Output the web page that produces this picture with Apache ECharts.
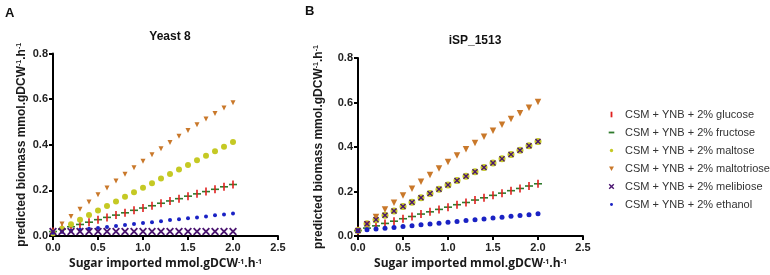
<!DOCTYPE html>
<html>
<head>
<meta charset="utf-8">
<script src="https://cdn.jsdelivr.net/npm/echarts@6/dist/echarts.min.js"></script>
<style>
  html, body { margin: 0; padding: 0; background: #fff; }
  #chart { width: 770px; height: 275px; }
</style>
</head>
<body>
<div id="chart"></div>
<script>
// sugar uptake (x) shared by every series
var uptake = [0.0, 0.1, 0.2, 0.3, 0.4, 0.5, 0.6, 0.7, 0.8, 0.9, 1.0,
              1.1, 1.2, 1.3, 1.4, 1.5, 1.6, 1.7, 1.8, 1.9, 2.0];

var mediaNames = ['CSM + YNB + 2% glucose', 'CSM + YNB + 2% fructose', 'CSM + YNB + 2% maltose',
                  'CSM + YNB + 2% maltotriose', 'CSM + YNB + 2% melibiose', 'CSM + YNB + 2% ethanol'];

// panel A - Yeast 8
var y8Glucose = [0.020, 0.030, 0.041, 0.051, 0.061, 0.072, 0.082, 0.092, 0.102, 0.113, 0.123,
                 0.133, 0.144, 0.154, 0.164, 0.175, 0.185, 0.195, 0.205, 0.216, 0.226];
var y8Fructose = [0.020, 0.030, 0.041, 0.051, 0.061, 0.072, 0.082, 0.092, 0.102, 0.113, 0.123,
                  0.133, 0.144, 0.154, 0.164, 0.175, 0.185, 0.195, 0.205, 0.216, 0.226];
var y8Maltose = [0.012, 0.032, 0.052, 0.072, 0.092, 0.112, 0.132, 0.152, 0.172, 0.192, 0.212,
                 0.232, 0.252, 0.272, 0.292, 0.312, 0.332, 0.352, 0.372, 0.392, 0.412];
var y8Maltotriose = [0.020, 0.053, 0.086, 0.118, 0.149, 0.181, 0.211, 0.241, 0.271, 0.300, 0.328,
                     0.356, 0.383, 0.410, 0.437, 0.463, 0.488, 0.513, 0.537, 0.561, 0.584];
var y8Melibiose = [0.020, 0.020, 0.020, 0.020, 0.020, 0.020, 0.020, 0.020, 0.020, 0.020, 0.020,
                   0.020, 0.020, 0.020, 0.020, 0.020, 0.020, 0.020, 0.020, 0.020, 0.020];
var y8Ethanol = [0.015, 0.019, 0.023, 0.028, 0.032, 0.036, 0.040, 0.044, 0.049, 0.053, 0.057,
                 0.061, 0.065, 0.070, 0.074, 0.078, 0.082, 0.086, 0.091, 0.095, 0.099];

// panel B - iSP_1513
var ispGlucose = [0.025, 0.036, 0.046, 0.057, 0.067, 0.078, 0.088, 0.099, 0.109, 0.120, 0.130,
                  0.141, 0.151, 0.162, 0.172, 0.183, 0.193, 0.204, 0.214, 0.225, 0.235];
var ispFructose = [0.025, 0.036, 0.046, 0.057, 0.067, 0.078, 0.088, 0.099, 0.109, 0.120, 0.130,
                   0.141, 0.151, 0.162, 0.172, 0.183, 0.193, 0.204, 0.214, 0.225, 0.235];
var ispMaltose = [0.025, 0.055, 0.074, 0.094, 0.113, 0.133, 0.152, 0.172, 0.191, 0.211, 0.230,
                  0.250, 0.269, 0.289, 0.308, 0.328, 0.347, 0.367, 0.386, 0.406, 0.425];
var ispMaltotriose = [0.020, 0.053, 0.086, 0.119, 0.150, 0.182, 0.213, 0.244, 0.274, 0.304, 0.333,
                      0.362, 0.390, 0.418, 0.446, 0.473, 0.500, 0.526, 0.552, 0.577, 0.602];
var ispMelibiose = [0.025, 0.055, 0.074, 0.094, 0.113, 0.133, 0.152, 0.172, 0.191, 0.211, 0.230,
                    0.250, 0.269, 0.289, 0.308, 0.328, 0.347, 0.367, 0.386, 0.406, 0.425];
var ispEthanol = [0.024, 0.028, 0.032, 0.035, 0.039, 0.043, 0.047, 0.051, 0.054, 0.058, 0.062,
                  0.066, 0.070, 0.073, 0.077, 0.081, 0.085, 0.089, 0.092, 0.096, 0.100];

var xTicks = ['0.0', '0.5', '1.0', '1.5', '2.0', '2.5'];
var yTicks = ['0.0', '0.2', '0.4', '0.6', '0.8'];

var colors = ['#e0201e', '#2f7a2c', '#c5c924', '#c9782a', '#4a1470', '#1a22c4'];
var VBAR = 'path://M0,0M10,10M4,0h2v10h-2z';
var HBAR = 'path://M0,0M10,10M0,4h10v2h-10z';
var DTRI = 'path://M0,0L10,0L5,9Z';
var CROSS = 'path://M0,1.6L1.6,0L5,3.4L8.4,0L10,1.6L6.6,5L10,8.4L8.4,10L5,6.6L1.6,10L0,8.4L3.4,5Z';
var symbols = [VBAR, HBAR, 'circle', DTRI, CROSS, 'circle'];
// smaller legend glyphs, padded inside a 10x10 frame
var legendIcons = [
  'path://M0,0M10,10M3.7,1h2.6v8h-2.6z',
  'path://M0,0M10,10M1,3.7h8v2.6h-8z',
  'path://M0,0M10,10M2.6,5a2.4,2.4 0 1,0 4.8,0a2.4,2.4 0 1,0 -4.8,0z',
  'path://M0,0M10,10M1.5,2L8.5,2L5,8.5Z',
  'path://M0,0M10,10M1,2.4L2.4,1L5,3.6L7.6,1L9,2.4L6.4,5L9,7.6L7.6,9L5,6.4L2.4,9L1,7.6L3.6,5Z',
  'path://M0,0M10,10M2.9,5a2.1,2.1 0 1,0 4.2,0a2.1,2.1 0 1,0 -4.2,0z'
];

function pairs(ys) {
  return uptake.map(function (x, i) { return [x, ys[i]]; });
}

var axisFont = 'Liberation Sans, Arial, sans-serif';
var richName = {
  b: { fontFamily: axisFont, fontWeight: 'bold', fontSize: 12, color: '#1a1a1a' },
  s: { fontFamily: axisFont, fontWeight: 'bold', fontSize: 7, color: '#1a1a1a', verticalAlign: 'top', padding: [0, 0, 5, 0] }
};
var richX = {
  b: { fontFamily: 'Open Sans, sans-serif', fontWeight: 'bold', fontSize: 12, color: '#1a1a1a' },
  s: { fontFamily: 'Open Sans, sans-serif', fontWeight: 'bold', fontSize: 7, color: '#1a1a1a', verticalAlign: 'top', padding: [0, 0, 5, 0] }
};

function xAxis(idx) {
  return {
    type: 'value', gridIndex: idx, min: 0, max: 2.5, interval: 0.5,
    name: '{b|Sugar imported mmol.gDCW}{s|-1}{b|.h}{s|-1}',
    nameLocation: 'middle', nameGap: 21,
    nameTextStyle: { rich: richX },
    splitLine: { show: false },
    axisLine: { lineStyle: { color: '#000', width: 2 } },
    axisTick: { length: 4, lineStyle: { color: '#000', width: 2 } },
    axisLabel: { margin: 6, fontFamily: axisFont, fontWeight: 'bold', fontSize: 11, color: '#222',
      formatter: function (v) { return xTicks[Math.round(v / 0.5)]; } }
  };
}
function yAxis(idx, gap) {
  return {
    type: 'value', gridIndex: idx, min: 0, max: 0.8, interval: 0.2,
    name: '{b|predicted biomass mmol.gDCW}{s|-1}{b|.h}{s|-1}',
    nameLocation: 'middle', nameGap: gap,
    nameTextStyle: { rich: richName },
    splitLine: { show: false },
    axisLine: { lineStyle: { color: '#000', width: 2 } },
    axisTick: { length: 4, lineStyle: { color: '#000', width: 2 } },
    axisLabel: { margin: 5, fontFamily: axisFont, fontWeight: 'bold', fontSize: 11, color: '#222',
      formatter: function (v) { return yTicks[Math.round(v / 0.2)]; } }
  };
}

var panelA = [y8Glucose, y8Fructose, y8Maltose, y8Maltotriose, y8Melibiose, y8Ethanol];
var panelB = [ispGlucose, ispFructose, ispMaltose, ispMaltotriose, ispMelibiose, ispEthanol];
var sizesA = [8, 8, 6, 5, 8, 4];
var sizesB = [8, 8, 7, 6.5, 6, 5];
var drawOrder = [1, 0, 2, 3, 5, 4];

var series = [];
[panelA, panelB].forEach(function (panel, p) {
  drawOrder.forEach(function (k) {
    series.push({
      name: mediaNames[k], type: 'scatter',
      xAxisIndex: p, yAxisIndex: p,
      symbol: symbols[k], symbolSize: (p === 0 ? sizesA : sizesB)[k],
      itemStyle: { color: colors[k], opacity: 1 },
      data: pairs(panel[k])
    });
  });
});

var chart = echarts.init(document.getElementById('chart'));
chart.setOption({
  animation: false,
  backgroundColor: '#fff',
  title: [
    { text: 'A', left: 0, top: 2, textStyle: { fontFamily: axisFont, fontWeight: 'bold', fontSize: 13, color: '#111' } },
    { text: 'Yeast 8', left: 165, top: 26, textAlign: 'center', textStyle: { fontFamily: axisFont, fontWeight: 'bold', fontSize: 12, color: '#111' } },
    { text: 'B', left: 300, top: 0, textStyle: { fontFamily: axisFont, fontWeight: 'bold', fontSize: 13, color: '#111' } },
    { text: 'iSP_1513', left: 470, top: 30, textAlign: 'center', textStyle: { fontFamily: axisFont, fontWeight: 'bold', fontSize: 12, color: '#111' } }
  ],
  legend: {
    data: mediaNames.map(function (n, i) { return { name: n, icon: legendIcons[i] }; }),
    orient: 'vertical', left: 603, top: 104,
    itemWidth: 7, itemHeight: 7, itemGap: 7,
    selectedMode: false,
    textStyle: { fontFamily: axisFont, fontSize: 11, color: '#333', padding: [0, 0, 0, 5] }
  },
  grid: [
    { left: 53, top: 53.5, width: 225, height: 184, containLabel: false },
    { left: 358, top: 58, width: 225, height: 179.5, containLabel: false }
  ],
  xAxis: [xAxis(0), xAxis(1)],
  yAxis: [yAxis(0, 25), yAxis(1, 33)],
  series: series
});
</script>
</body>
</html>
